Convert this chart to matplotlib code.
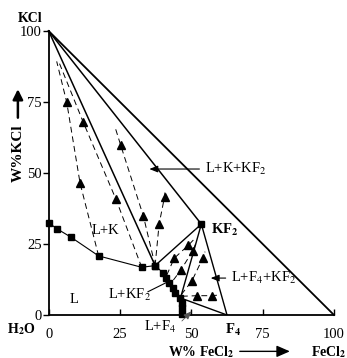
import matplotlib
matplotlib.use("Agg")
import matplotlib.pyplot as plt

plt.rcParams['font.family'] = ['Liberation Serif', 'DejaVu Serif']
plt.rcParams['mathtext.fontset'] = 'stix'

# ---- data (W% FeCl2, W% KCl) ----
kcl_vertex = (0, 100)
fecl2_vertex = (100, 0)
kf2_point = (53.5, 32.0)
f4_point = (62.5, 0.0)
e1_point = (37.3, 17.4)
e2_point = (46.2, 6.0)

# liquidus, KCl branch (squares)
kcl_branch_x = [0.2, 3.0, 7.8, 17.5, 32.6, 37.3]
kcl_branch_y = [32.3, 30.3, 27.4, 20.8, 16.8, 17.4]
# liquidus, KF2 / F4 branch (squares)
kf2_branch_x = [37.3, 40.0, 41.2, 42.3, 43.4, 44.3, 46.1, 46.7, 46.7, 46.7]
kf2_branch_y = [17.4, 14.9, 12.9, 11.2, 9.4, 7.9, 5.9, 4.1, 2.5, 0.4]

# dashed tie lines (liquid -> triangles -> end)
tie_lines = [
    [(17.5, 20.8), (11.0, 46.4), (6.3, 75.0), (2.8, 89.3)],
    [(32.6, 16.8), (23.6, 40.7), (12.1, 67.9), (3.8, 88.5)],
    [(37.3, 17.4), (33.2, 34.8), (25.2, 59.9), (23.3, 66.0)],
    [(37.3, 17.4), (38.7, 32.0), (40.6, 41.6), (40.9, 44.5)],
    [(41.4, 14.1), (44.0, 20.0), (49.0, 24.6), (50.7, 26.4)],
    [(43.7, 12.3), (46.3, 15.8), (50.5, 22.6), (51.5, 25.0)],
    [(46.5, 7.2), (50.2, 12.0), (54.0, 20.0), (54.8, 22.3)],
    [(46.7, 6.6), (52.1, 6.8), (57.2, 6.8), (59.4, 7.0)],
]
triangles_x = [6.3, 11.0, 12.1, 23.6, 25.2, 33.2, 38.7, 40.6,
               44.0, 49.0, 46.3, 50.5, 50.2, 54.0, 52.1, 57.2]
triangles_y = [75.0, 46.4, 67.9, 40.7, 59.9, 34.8, 32.0, 41.6,
               20.0, 24.6, 15.8, 22.6, 12.0, 20.0, 6.8, 6.8]

tick_values = [0, 25, 50, 75, 100]

# ---- figure ----
W, H = 347, 358
fig = plt.figure(figsize=(W / 100, H / 100), dpi=100)
ax = fig.add_axes([48.7 / W, 1 - 315 / H, (334 - 48.7) / W, (315 - 31) / H])
ax.set_xlim(0, 100)
ax.set_ylim(0, 100)
for s in ['top', 'right']:
    ax.spines[s].set_visible(False)
for s in ['left', 'bottom']:
    ax.spines[s].set_linewidth(1.3)
    ax.spines[s].set_color('black')

ax.set_xticks(tick_values)
ax.set_yticks(tick_values)
ax.tick_params(axis='x', direction='in', length=4, width=1.0, pad=9, labelsize=10.5)
ax.tick_params(axis='y', direction='out', length=4, width=1.0, pad=1, labelsize=10.5)

lc = 'black'
# solid phase boundaries
ax.plot([kcl_vertex[0], fecl2_vertex[0]], [kcl_vertex[1], fecl2_vertex[1]], color=lc, lw=1.3, clip_on=False)
ax.plot([kcl_vertex[0], kf2_point[0]], [kcl_vertex[1], kf2_point[1]], color=lc, lw=1.1, clip_on=False)
ax.plot([kcl_vertex[0], e1_point[0]], [kcl_vertex[1], e1_point[1]], color=lc, lw=1.1, clip_on=False)
ax.plot([e1_point[0], kf2_point[0]], [e1_point[1], kf2_point[1]], color=lc, lw=1.0)
ax.plot([e2_point[0], kf2_point[0]], [e2_point[1], kf2_point[1]], color=lc, lw=1.0)
ax.plot([kf2_point[0], f4_point[0]], [kf2_point[1], f4_point[1]], color=lc, lw=1.0)
ax.plot([e2_point[0], f4_point[0]], [e2_point[1], f4_point[1]], color=lc, lw=1.0)

# dashed tie lines
for tl in tie_lines:
    xs = [p[0] for p in tl]
    ys = [p[1] for p in tl]
    ax.plot(xs, ys, color=lc, lw=0.7, ls=(0, (6, 4)))

# liquidus curves with squares
ax.plot(kcl_branch_x, kcl_branch_y, color=lc, lw=0.8, marker='s', ms=5, clip_on=False)
ax.plot(kf2_branch_x, kf2_branch_y, color=lc, lw=0.8, marker='s', ms=5, clip_on=False)
ax.plot([kf2_point[0]], [kf2_point[1]], marker='s', ms=5, color=lc)

# triangles
ax.plot(triangles_x, triangles_y, ls='none', marker='^', ms=5.5, color=lc)

# ---- texts ----
bold = dict(fontweight='bold')
ax.text(-6.6, 104.5, 'KCl', ha='center', va='center', fontsize=10, clip_on=False, **bold)
ax.text(-10.8, 57, r'W%KCl', rotation=90, ha='center', va='center', fontsize=11, **bold)
ax.annotate('', xy=(-10.8, 80.5), xytext=(-10.8, 68.5), xycoords='data',
            arrowprops=dict(arrowstyle='-|>,head_length=0.6,head_width=0.3', color=lc, lw=1.8),
            annotation_clip=False)
ax.text(-9.6, -4.9, r'H$_\mathbf{2}$O', ha='center', va='center', fontsize=10, **bold)
ax.text(53.5, -12.9, r'W% FeCl$_\mathbf{2}$', ha='center', va='center', fontsize=10, **bold)
ax.annotate('', xy=(85.5, -12.8), xytext=(66.0, -12.8),
            arrowprops=dict(arrowstyle='-|>,head_length=0.8,head_width=0.35', color=lc, lw=1.0),
            annotation_clip=False)
ax.text(91.8, -12.9, r'FeCl$_\mathbf{2}$', ha='left', va='center', fontsize=10, **bold)
ax.text(64.6, -5.3, r'F$_\mathbf{4}$', ha='center', va='center', fontsize=10.5, **bold)
ax.text(56.8, 30.0, r'KF$_\mathbf{2}$', ha='left', va='center', fontsize=10.5, **bold)

ax.text(54.9, 51.4, r'L+K+KF$_2$', ha='left', va='center', fontsize=10.5)
ax.annotate('', xy=(34.3, 51.4), xytext=(53.8, 51.4),
            arrowprops=dict(arrowstyle='-|>,head_length=0.5,head_width=0.2', color=lc, lw=0.8))
ax.text(19.8, 29.6, 'L+K', ha='center', va='center', fontsize=10.5)
ax.text(8.9, 5.3, 'L', ha='center', va='center', fontsize=10.5)
ax.text(28.3, 7.0, r'L+KF$_2$', ha='center', va='center', fontsize=10.5)
ax.plot([34.8, 41.6], [8.2, 11.6], color=lc, lw=0.8)
ax.text(39.1, -4.3, r'L+F$_4$', ha='center', va='center', fontsize=10.5)
ax.annotate('', xy=(50.8, 2.0), xytext=(46.0, -2.8),
            arrowprops=dict(arrowstyle='-|>,head_length=0.5,head_width=0.2', color='#555555', lw=0.6),
            annotation_clip=False)
ax.text(63.8, 13.0, r'L+F$_4$+KF$_2$', ha='left', va='center', fontsize=10.5)
ax.annotate('', xy=(55.8, 13.0), xytext=(63.0, 13.0),
            arrowprops=dict(arrowstyle='-|>,head_length=0.5,head_width=0.2', color=lc, lw=0.8))

fig.savefig('out.png', dpi=100)
